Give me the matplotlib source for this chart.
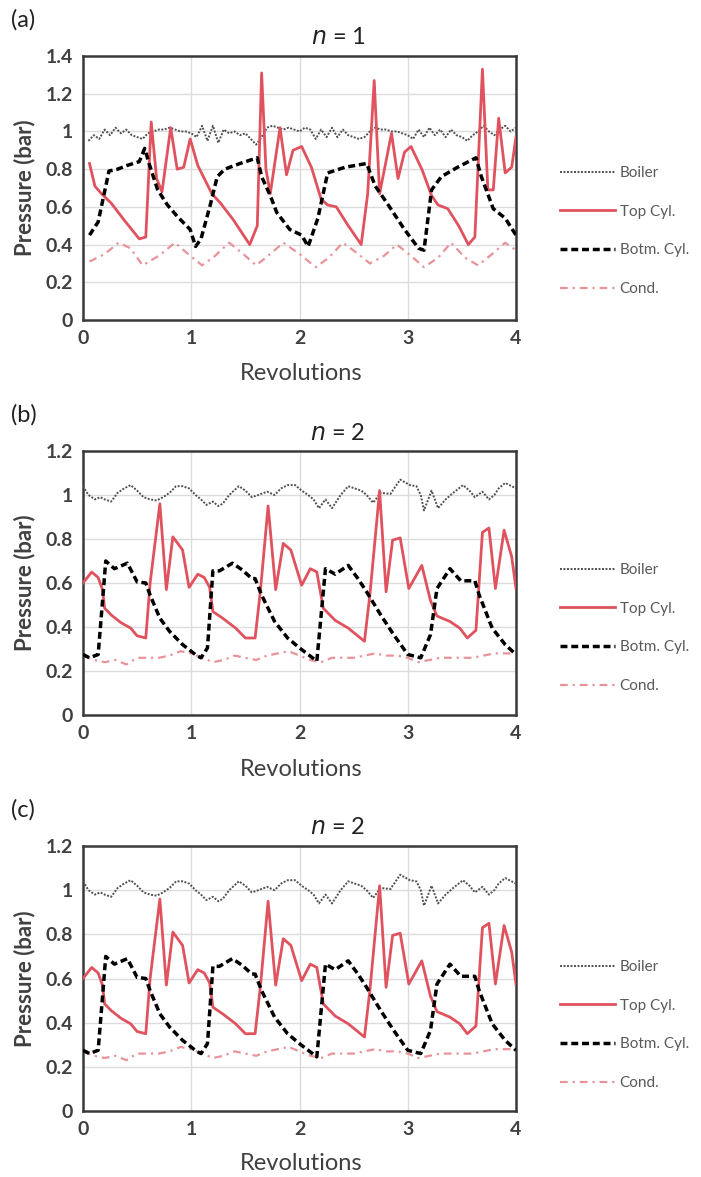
"""Pressure traces (boiler, cylinders, condenser) over four revolutions, three panels."""

import matplotlib
matplotlib.use("Agg")
import matplotlib.pyplot as plt
from matplotlib.ticker import FuncFormatter, MultipleLocator

plt.rcParams["font.family"] = ["Lato", "DejaVu Sans"]

# ---- panel (a), n = 1 ----
a_boiler_x = [0.05, 0.10, 0.15, 0.20, 0.25, 0.30, 0.35, 0.40, 0.45, 0.50,
              0.55, 0.60, 0.65, 0.70, 0.75, 0.80, 0.85, 0.90, 0.95, 1.00,
              1.05, 1.10, 1.15, 1.20, 1.25, 1.30, 1.35, 1.40, 1.45, 1.50,
              1.55, 1.60, 1.65, 1.70, 1.75, 1.80, 1.85, 1.90, 1.95, 2.00,
              2.05, 2.10, 2.15, 2.20, 2.25, 2.30, 2.35, 2.40, 2.45, 2.50,
              2.55, 2.60, 2.65, 2.70, 2.75, 2.80, 2.85, 2.90, 2.95, 3.00,
              3.05, 3.10, 3.15, 3.20, 3.25, 3.30, 3.35, 3.40, 3.45, 3.50,
              3.55, 3.60, 3.65, 3.70, 3.75, 3.80, 3.85, 3.90, 3.95, 4.00]
a_boiler_y = [0.95, 0.98, 0.96, 1.01, 0.98, 1.02, 0.99, 1.01, 0.98, 0.97,
              0.96, 0.99, 1.00, 1.01, 1.01, 1.02, 1.01, 1.00, 1.00, 0.99,
              0.97, 1.03, 0.95, 1.03, 0.94, 1.01, 0.99, 1.00, 0.98, 0.99,
              0.96, 0.93, 0.97, 1.02, 1.03, 1.02, 1.01, 1.02, 1.01, 1.00,
              1.02, 1.01, 0.96, 1.01, 0.97, 1.02, 0.97, 1.01, 0.98, 0.97,
              0.96, 0.97, 1.00, 1.02, 1.01, 1.01, 1.00, 1.00, 0.99, 0.98,
              0.96, 1.01, 0.97, 1.02, 0.98, 1.01, 0.97, 1.01, 0.98, 0.97,
              0.95, 0.98, 1.00, 1.03, 1.00, 0.98, 1.01, 1.03, 1.00, 1.02]

a_top_x = [0.06, 0.11, 0.17, 0.26, 0.38, 0.52, 0.58, 0.63, 0.68, 0.73,
           0.81, 0.87, 0.93, 0.99, 1.06, 1.19, 1.27, 1.39, 1.54, 1.61,
           1.65, 1.69, 1.73, 1.82, 1.88, 1.94, 2.02, 2.11, 2.20, 2.26,
           2.34, 2.45, 2.57, 2.63, 2.69, 2.74, 2.85, 2.91, 2.97, 3.03,
           3.13, 3.22, 3.28, 3.37, 3.47, 3.56, 3.62, 3.69, 3.74, 3.79,
           3.84, 3.90, 3.96, 4.00]
a_top_y = [0.83, 0.71, 0.67, 0.62, 0.53, 0.43, 0.44, 1.05, 0.75, 0.68,
           1.02, 0.80, 0.81, 0.96, 0.82, 0.67, 0.62, 0.53, 0.40, 0.50,
           1.31, 0.80, 0.67, 1.02, 0.77, 0.90, 0.92, 0.81, 0.64, 0.61,
           0.60, 0.50, 0.40, 0.67, 1.27, 0.67, 0.99, 0.75, 0.89, 0.92,
           0.80, 0.66, 0.61, 0.59, 0.50, 0.40, 0.44, 1.33, 0.69, 0.69,
           1.07, 0.78, 0.81, 0.97]

a_botm_x = [0.06, 0.14, 0.24, 0.32, 0.41, 0.52, 0.57, 0.61, 0.69, 0.78,
            0.87, 0.99, 1.04, 1.09, 1.18, 1.24, 1.31, 1.45, 1.61, 1.65,
            1.73, 1.79, 1.91, 2.02, 2.08, 2.17, 2.26, 2.42, 2.62, 2.70,
            2.82, 2.97, 3.10, 3.15, 3.22, 3.31, 3.46, 3.63, 3.68, 3.79,
            3.90, 4.00]
a_botm_y = [0.45, 0.52, 0.79, 0.80, 0.82, 0.84, 0.91, 0.83, 0.69, 0.61,
            0.55, 0.48, 0.39, 0.43, 0.62, 0.76, 0.80, 0.83, 0.86, 0.76,
            0.66, 0.57, 0.48, 0.45, 0.39, 0.54, 0.78, 0.81, 0.83, 0.71,
            0.61, 0.48, 0.38, 0.37, 0.69, 0.76, 0.81, 0.86, 0.76, 0.59,
            0.54, 0.45]

a_cond_x = [0.06, 0.20, 0.33, 0.44, 0.55, 0.70, 0.85, 0.97, 1.10, 1.22,
            1.35, 1.48, 1.60, 1.73, 1.85, 2.00, 2.15, 2.27, 2.40, 2.52,
            2.65, 2.78, 2.90, 3.03, 3.15, 3.28, 3.40, 3.53, 3.65, 3.78,
            3.90, 4.00]
a_cond_y = [0.31, 0.35, 0.41, 0.38, 0.29, 0.34, 0.41, 0.35, 0.29, 0.34,
            0.41, 0.35, 0.29, 0.35, 0.41, 0.35, 0.28, 0.33, 0.41, 0.36,
            0.30, 0.34, 0.40, 0.34, 0.28, 0.33, 0.41, 0.33, 0.29, 0.35,
            0.41, 0.37]

# ---- panels (b) and (c), n = 2 ----
b_boiler_x = [0.00, 0.05, 0.11, 0.16, 0.20, 0.26, 0.32, 0.38, 0.44, 0.50,
              0.56, 0.62, 0.68, 0.74, 0.80, 0.86, 0.92, 0.98, 1.04, 1.09,
              1.14, 1.20, 1.25, 1.29, 1.35, 1.44, 1.50, 1.56, 1.62, 1.70,
              1.77, 1.83, 1.89, 1.96, 2.02, 2.08, 2.13, 2.18, 2.24, 2.30,
              2.38, 2.45, 2.51, 2.57, 2.62, 2.68, 2.75, 2.84, 2.93, 3.02,
              3.08, 3.12, 3.15, 3.22, 3.28, 3.35, 3.42, 3.51, 3.57, 3.62,
              3.69, 3.75, 3.80, 3.84, 3.90, 3.96, 4.00]
b_boiler_y = [1.04, 1.00, 0.98, 0.99, 0.98, 0.97, 1.01, 1.03, 1.045, 1.02,
              0.99, 0.98, 0.975, 0.99, 1.01, 1.04, 1.04, 1.03, 1.00, 0.98,
              0.955, 0.97, 0.95, 0.96, 1.00, 1.04, 1.02, 0.99, 1.00, 1.015,
              1.00, 1.03, 1.045, 1.045, 1.02, 1.00, 0.98, 0.94, 0.98, 0.94,
              1.00, 1.04, 1.03, 1.02, 1.00, 0.965, 1.01, 1.005, 1.07, 1.045,
              1.04, 1.00, 0.93, 1.02, 0.94, 0.98, 1.01, 1.045, 1.02, 0.99,
              1.015, 0.98, 1.00, 1.03, 1.055, 1.04, 1.03]

b_top_x = [0.00, 0.08, 0.14, 0.18, 0.20, 0.26, 0.35, 0.44, 0.50, 0.58,
           0.62, 0.71, 0.77, 0.83, 0.92, 0.98, 1.06, 1.12, 1.17, 1.20,
           1.29, 1.41, 1.50, 1.59, 1.64, 1.71, 1.78, 1.85, 1.92, 2.02,
           2.10, 2.16, 2.22, 2.33, 2.45, 2.60, 2.65, 2.74, 2.80, 2.86,
           2.93, 3.01, 3.13, 3.21, 3.27, 3.39, 3.48, 3.55, 3.63, 3.69,
           3.75, 3.81, 3.89, 3.96, 4.00]
b_top_y = [0.60, 0.65, 0.625, 0.57, 0.485, 0.455, 0.42, 0.395, 0.36, 0.35,
           0.60, 0.96, 0.57, 0.81, 0.75, 0.58, 0.64, 0.625, 0.58, 0.47,
           0.44, 0.395, 0.35, 0.35, 0.57, 0.95, 0.57, 0.78, 0.75, 0.59,
           0.665, 0.65, 0.485, 0.43, 0.395, 0.335, 0.545, 1.02, 0.56, 0.795,
           0.805, 0.575, 0.68, 0.52, 0.45, 0.425, 0.395, 0.35, 0.385, 0.83,
           0.85, 0.575, 0.84, 0.72, 0.575]

b_botm_x = [0.00, 0.06, 0.14, 0.18, 0.21, 0.29, 0.41, 0.50, 0.58, 0.62,
            0.71, 0.80, 0.92, 1.05, 1.09, 1.15, 1.20, 1.26, 1.38, 1.47,
            1.56, 1.59, 1.65, 1.77, 1.89, 2.00, 2.08, 2.16, 2.24, 2.33,
            2.45, 2.54, 2.62, 2.75, 2.87, 3.00, 3.12, 3.21, 3.27, 3.39,
            3.49, 3.62, 3.66, 3.78, 3.90, 4.00]
b_botm_y = [0.275, 0.26, 0.275, 0.515, 0.70, 0.665, 0.69, 0.605, 0.60, 0.545,
            0.44, 0.38, 0.32, 0.27, 0.26, 0.305, 0.655, 0.655, 0.69, 0.66,
            0.62, 0.62, 0.545, 0.425, 0.35, 0.305, 0.275, 0.245, 0.665, 0.64,
            0.68, 0.62, 0.56, 0.455, 0.365, 0.275, 0.26, 0.365, 0.575, 0.665,
            0.61, 0.61, 0.545, 0.395, 0.32, 0.275]

b_cond_x = [0.0, 0.1, 0.2, 0.3, 0.4, 0.5, 0.6, 0.7, 0.8, 0.9,
            1.0, 1.1, 1.2, 1.3, 1.4, 1.5, 1.6, 1.7, 1.8, 1.9,
            2.0, 2.1, 2.2, 2.3, 2.4, 2.5, 2.6, 2.7, 2.8, 2.9,
            3.0, 3.1, 3.2, 3.3, 3.4, 3.5, 3.6, 3.7, 3.8, 3.9, 4.0]
b_cond_y = [0.27, 0.25, 0.24, 0.25, 0.23, 0.26, 0.26, 0.26, 0.27, 0.29,
            0.28, 0.26, 0.24, 0.25, 0.27, 0.26, 0.25, 0.27, 0.28, 0.29,
            0.27, 0.25, 0.24, 0.26, 0.26, 0.26, 0.27, 0.28, 0.27, 0.27,
            0.26, 0.24, 0.25, 0.26, 0.26, 0.26, 0.26, 0.27, 0.28, 0.28, 0.28]

W, H = 701, 1177
RED = "#E0525E"
PINK = "#E8939A"
GREY_TXT = "#404040"


def add_axes_px(fig, left, top, right, bottom):
    return fig.add_axes([left / W, 1 - bottom / H, (right - left) / W, (bottom - top) / H])


def draw_panel(fig, box, data, ymax, tag, title, tag_y, title_y, xlab_y, leg_y):
    boiler, top, botm, cond = data
    ax = add_axes_px(fig, *box)
    ax.plot(*boiler, color="#505050", lw=1.4, ls=(0, (1, 0.8)), label="Boiler", zorder=3)
    ax.plot(*top, color=RED, lw=2.0, label="Top Cyl.", zorder=4)
    ax.plot(*botm, color="black", lw=2.5, ls=(0, (2.0, 1.1)), label="Botm. Cyl.", zorder=5)
    ax.plot(*cond, color=PINK, lw=1.6, ls=(0, (3.5, 2.2, 1, 2.2)), label="Cond.", zorder=2)

    ax.set_xlim(0, 4)
    ax.set_ylim(0, ymax)
    ax.xaxis.set_major_locator(MultipleLocator(1))
    ax.yaxis.set_major_locator(MultipleLocator(0.2))
    ax.yaxis.set_major_formatter(FuncFormatter(lambda v, p: f"{v:g}"))
    ax.grid(True, color="#DCDCDC", lw=1.0)
    ax.set_axisbelow(True)
    for s in ax.spines.values():
        s.set_color("#3A3A3A")
        s.set_linewidth(1.8)
    ax.tick_params(length=0, pad=7, labelsize=14, labelcolor=GREY_TXT)
    for lab in ax.get_xticklabels() + ax.get_yticklabels():
        lab.set_fontweight("bold")

    fig.text(11 / W, 1 - tag_y / H, tag, fontsize=17, va="center", ha="left", color="#222222")
    fig.text(338 / W, 1 - title_y / H, "$n$ = " + title, fontsize=17, va="center", ha="center",
             color="#222222")
    fig.text(301 / W, 1 - xlab_y / H, "Revolutions", fontsize=17, va="center", ha="center",
             color=GREY_TXT)
    mid = (box[1] + box[3]) / 2
    fig.text(25 / W, 1 - mid / H, "Pressure (bar)", fontsize=16, va="center", ha="center",
             rotation=90, color=GREY_TXT, fontweight="bold")

    ax.legend(loc="center left", bbox_to_anchor=(560 / W, 1 - leg_y / H),
              bbox_transform=fig.transFigure, frameon=False, fontsize=11,
              labelcolor="#595959", handlelength=3.6, handletextpad=0.3,
              labelspacing=1.62, borderpad=0, borderaxespad=0)
    return ax


def main():
    fig = plt.figure(figsize=(W / 100, H / 100), dpi=100)

    data_a = ((a_boiler_x, a_boiler_y), (a_top_x, a_top_y),
              (a_botm_x, a_botm_y), (a_cond_x, a_cond_y))
    data_b = ((b_boiler_x, b_boiler_y), (b_top_x, b_top_y),
              (b_botm_x, b_botm_y), (b_cond_x, b_cond_y))

    draw_panel(fig, (83, 56, 516, 320), data_a, 1.4, "(a)", "1", 20, 38, 373, 231)
    draw_panel(fig, (83, 451, 516, 715), data_b, 1.2, "(b)", "2", 415, 433, 769, 628)
    draw_panel(fig, (83, 846, 516, 1111), data_b, 1.2, "(c)", "2", 810, 828, 1163, 1025)

    fig.savefig("out.png", dpi=100)
    plt.close(fig)


if __name__ == "__main__":
    main()
